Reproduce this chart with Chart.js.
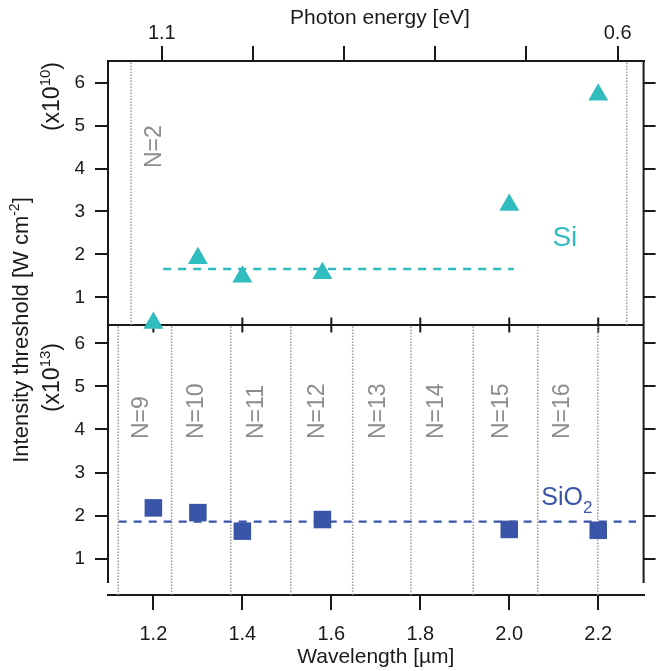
<!DOCTYPE html>
<html>
<head>
<meta charset="utf-8">
<script src="https://cdn.jsdelivr.net/npm/chart.js@4.4.1/dist/chart.umd.min.js"></script>
<style>
  html, body { margin: 0; padding: 0; background: #ffffff; }
  #wrap { width: 656px; height: 671px; }
</style>
</head>
<body>
<div id="wrap"><canvas id="c" width="656" height="671"></canvas></div>
<script>
// ---------------- data ----------------
const wavelengthSi   = [1.2, 1.3, 1.4, 1.58, 2.0, 2.2];          // µm
const thresholdSi    = [0.40, 1.91, 1.48, 1.56, 3.15, 5.72];     // x10^10 W cm^-2
const wavelengthSiO2 = [1.2, 1.3, 1.4, 1.58, 2.0, 2.2];          // µm
const thresholdSiO2  = [2.18, 2.07, 1.64, 1.91, 1.68, 1.66];     // x10^13 W cm^-2

const meanSi      = 1.66;
const meanSiSpan  = [1.222, 2.010];
const meanSiO2     = 1.86;
const meanSiO2Span = [1.122, 2.285];

const siOrderBounds   = [1.150, 2.264];
const sio2OrderBounds = [1.121, 1.241, 1.374, 1.509, 1.648, 1.779, 1.919, 2.064, 2.199];
const siOrderLabels   = ['N=2'];
const sio2OrderLabels = ['N=9', 'N=10', 'N=11', 'N=12', 'N=13', 'N=14', 'N=15', 'N=16'];

const wavelengthTicks  = [1.2, 1.4, 1.6, 1.8, 2.0, 2.2];
const energyTicks      = [1.1, 1.0, 0.9, 0.8, 0.7, 0.6];
const energyTickLabels = ['1.1', '', '', '', '', '0.6'];
const thresholdTicks   = [1, 2, 3, 4, 5, 6];

// ---------------- axis ranges ----------------
const X_RANGE   = [1.098, 2.302];
const E_RANGE   = [0.5715, 1.159];
const YTOP_RANGE = [0.355, 6.506];
const YBOT_RANGE = [0.158, 6.425];

// ---------------- label anchors (wavelength / value) ----------------
const siOrderLabelAt   = [1.2034];
const sio2OrderLabelAt = [1.1735, 1.2984, 1.4318, 1.5684, 1.7065, 1.8379, 1.9839, 2.1209];

// ---------------- styles ----------------
const TEAL = '#2fbdc0';
const BLUE = '#3a55a8';
const INK  = '#1a1a1a';
const GRAY = '#8c8c8c';
const DOT  = '#9a9a9a';
const FONT = "'Liberation Sans', Arial, Helvetica, sans-serif";

Chart.defaults.font.family = FONT;
Chart.defaults.color = INK;

const zip = (xs, ys) => xs.map((x, i) => ({ x, y: ys[i] }));

function vline(x, axis, range) {
  return {
    showLine: true, data: [{ x, y: range[0] }, { x, y: range[1] }], yAxisID: axis,
    borderColor: DOT, borderWidth: 1.5, borderDash: [1.5, 1.5], pointRadius: 0, clip: false, order: 5
  };
}

const datasets = [
  ...siOrderBounds.map(v => vline(v, 'yTop', YTOP_RANGE)),
  ...sio2OrderBounds.map(v => vline(v, 'yBot', YBOT_RANGE)),
  {
    showLine: true, yAxisID: 'yTop', order: 3,
    data: [{ x: meanSiSpan[0], y: meanSi }, { x: meanSiSpan[1], y: meanSi }],
    borderColor: TEAL, borderWidth: 2.5, borderDash: [8, 7], pointRadius: 0, clip: false
  },
  {
    showLine: true, yAxisID: 'yBot', order: 3,
    data: [{ x: meanSiO2Span[0], y: meanSiO2 }, { x: meanSiO2Span[1], y: meanSiO2 }],
    borderColor: BLUE, borderWidth: 2.2, borderDash: [8, 7], pointRadius: 0, clip: false
  },
  {
    label: 'Si', yAxisID: 'yTop', order: 1, data: zip(wavelengthSi, thresholdSi),
    pointStyle: 'triangle', pointRadius: 11.5, backgroundColor: TEAL, borderColor: TEAL, borderWidth: 0, clip: false
  },
  {
    label: 'SiO2', yAxisID: 'yBot', order: 1, data: zip(wavelengthSiO2, thresholdSiO2),
    pointStyle: 'rect', pointRadius: 12.4, backgroundColor: BLUE, borderColor: BLUE, borderWidth: 0, clip: false
  }
];

const tickGrid = len => ({ drawOnChartArea: false, drawTicks: true, tickLength: len, color: INK, lineWidth: 2 });

function yAxis(range, side, weight, stackWeight) {
  const left = side === 'left';
  return {
    type: 'linear', position: side, stack: left ? 'yl' : 'yr', stackWeight, weight,
    min: range[0], max: range[1], bounds: 'data',
    afterBuildTicks: s => { s.ticks = thresholdTicks.map(v => ({ value: v })); },
    afterFit: s => { s.width = left ? 108 : 12; },
    grid: tickGrid(left ? 13 : 12),
    border: { display: false },
    ticks: {
      padding: 10, font: { size: 19 }, color: INK,
      callback: v => left ? String(v) : ''
    }
  };
}

function drawRich(ctx, segs, x, y, align) {
  let w = 0;
  for (const s of segs) { ctx.font = `${s.size}px ${FONT}`; s.w = ctx.measureText(s.t).width; w += s.w; }
  let cx = align === 'center' ? x - w / 2 : align === 'right' ? x - w : x;
  ctx.textAlign = 'left';
  for (const s of segs) {
    ctx.font = `${s.size}px ${FONT}`;
    ctx.fillText(s.t, cx, y + (s.dy || 0));
    cx += s.w;
  }
}

function rotatedRich(ctx, segs, sx, sy, align, baseline) {
  ctx.save();
  ctx.translate(sx, sy);
  ctx.rotate(-Math.PI / 2);
  ctx.textBaseline = baseline || 'alphabetic';
  drawRich(ctx, segs, 0, 0, align);
  ctx.restore();
}

const framePlugin = {
  id: 'frame',
  beforeDatasetsDraw(chart) {
    const { ctx, chartArea: a, scales } = chart;
    const yDiv = scales.yTop.bottom;
    ctx.save();
    ctx.strokeStyle = INK;
    ctx.lineWidth = 2;
    ctx.beginPath();
    // side frames (stop short of the detached bottom axis)
    ctx.moveTo(a.left, a.top); ctx.lineTo(a.left, a.bottom - 12);
    ctx.moveTo(a.right, a.top); ctx.lineTo(a.right, a.bottom - 12);
    // divider between panels
    ctx.moveTo(a.left, yDiv); ctx.lineTo(a.right, yDiv);
    // ticks crossing the divider
    for (const v of wavelengthTicks) {
      const px = scales.x.getPixelForValue(v);
      ctx.moveTo(px, yDiv - 7.5); ctx.lineTo(px, yDiv + 7.5);
    }
    ctx.stroke();
    ctx.restore();
  },
  afterDraw(chart) {
    const { ctx, chartArea: a, scales } = chart;
    const { x, yTop, yBot } = scales;
    ctx.save();
    ctx.fillStyle = INK;

    // axis titles
    ctx.textBaseline = 'middle';
    drawRich(ctx, [{ t: 'Photon energy [eV]', size: 21 }], 380, 18, 'center');
    drawRich(ctx, [{ t: 'Wavelength [\u00b5m]', size: 21 }], (a.left + a.right) / 2, 657, 'center');

    rotatedRich(ctx, [
      { t: 'Intensity threshold [W cm', size: 22 },
      { t: '-2', size: 14, dy: -9 },
      { t: ']', size: 22 }
    ], 27.5, 330, 'center');

    rotatedRich(ctx, [
      { t: '(x10', size: 23 }, { t: '10', size: 15, dy: -9 }, { t: ')', size: 23 }
    ], 59, 62, 'right');
    rotatedRich(ctx, [
      { t: '(x10', size: 23 }, { t: '13', size: 15, dy: -9 }, { t: ')', size: 23 }
    ], 59, 343, 'right');

    // harmonic order labels
    ctx.fillStyle = GRAY;
    siOrderLabels.forEach((t, i) => {
      rotatedRich(ctx, [{ t, size: 23 }], x.getPixelForValue(siOrderLabelAt[i]), 168, 'left', 'middle');
    });
    sio2OrderLabels.forEach((t, i) => {
      rotatedRich(ctx, [{ t, size: 23 }], x.getPixelForValue(sio2OrderLabelAt[i]), 439, 'left', 'middle');
    });

    // material labels
    ctx.fillStyle = TEAL;
    ctx.textBaseline = 'middle';
    drawRich(ctx, [{ t: 'Si', size: 28 }], x.getPixelForValue(2.125), yTop.getPixelForValue(2.38), 'center');
    ctx.fillStyle = BLUE;
    ctx.textBaseline = 'alphabetic';
    drawRich(ctx, [{ t: 'SiO', size: 25 }, { t: '2', size: 17, dy: 8 }],
      x.getPixelForValue(2.072), yBot.getPixelForValue(2.25), 'left');

    ctx.restore();
  }
};

new Chart(document.getElementById('c'), {
  type: 'scatter',
  data: { datasets },
  options: {
    responsive: false,
    animation: false,
    events: [],
    layout: { padding: 0 },
    plugins: { legend: { display: false }, tooltip: { enabled: false } },
    scales: {
      x: {
        type: 'linear', position: 'bottom', min: X_RANGE[0], max: X_RANGE[1], bounds: 'data',
        afterBuildTicks: s => { s.ticks = wavelengthTicks.map(v => ({ value: v })); },
        afterFit: s => { s.height = 76; },
        grid: tickGrid(15),
        border: { display: true, color: INK, width: 2 },
        ticks: { padding: 12, font: { size: 20 }, color: INK, maxRotation: 0, autoSkip: false,
                 callback: v => Number(v).toFixed(1) }
      },
      x2: {
        type: 'linear', position: 'top', reverse: true, min: E_RANGE[0], max: E_RANGE[1], bounds: 'data',
        afterBuildTicks: s => { s.ticks = energyTicks.map(v => ({ value: v })); },
        afterFit: s => { s.height = 61; },
        grid: tickGrid(15),
        border: { display: true, color: INK, width: 2 },
        ticks: { padding: 1, font: { size: 20 }, color: INK, maxRotation: 0, autoSkip: false,
                 callback: (v, i) => energyTickLabels[i] }
      },
      yTop:  yAxis(YTOP_RANGE, 'left', 2, 264),
      yBot:  yAxis(YBOT_RANGE, 'left', 1, 270),
      yTopR: yAxis(YTOP_RANGE, 'right', 1, 264),
      yBotR: yAxis(YBOT_RANGE, 'right', 2, 270)
    }
  },
  plugins: [framePlugin]
});
</script>
</body>
</html>
